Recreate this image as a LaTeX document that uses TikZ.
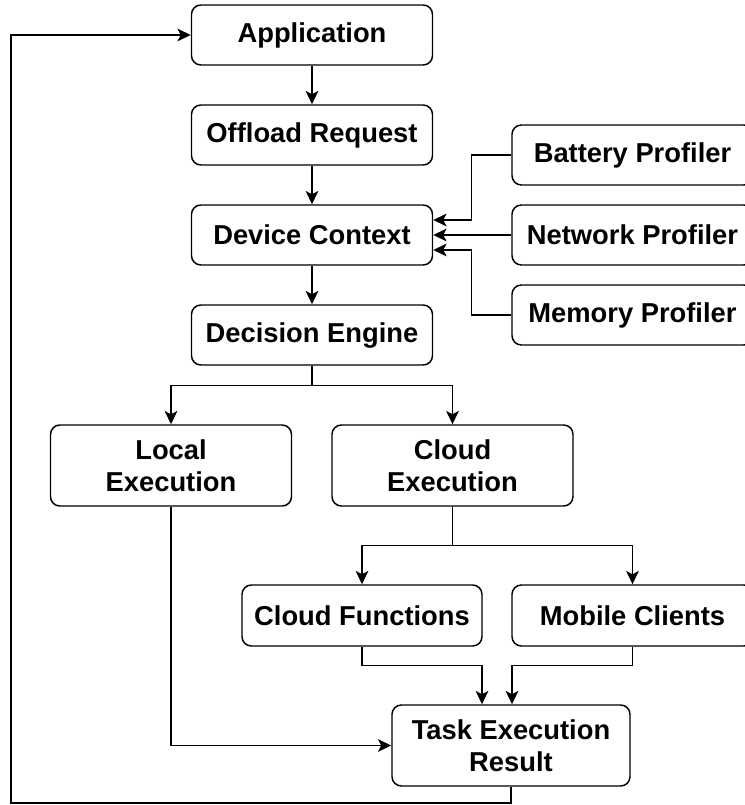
\documentclass[tikz,border=0pt]{standalone}
\usepackage{fontspec}
\setmainfont{Liberation Sans}
\usetikzlibrary{arrows.meta,calc}

\tikzset{
  box/.style={draw=black, line width=1.1pt, rounded corners=7pt, fill=white,
    minimum width=180.75pt, minimum height=45pt, inner sep=0pt, align=center,
    font=\fontsize{20.5pt}{24pt}\selectfont\bfseries},
  tallbox/.style={box, minimum height=60.75pt},
  arr/.style={draw=black, line width=1.1pt,
    -{Stealth[length=10pt, width=9.5pt, inset=2.5pt]}},
}

\begin{document}
\begin{tikzpicture}[x=0.75pt, y=-0.75pt]
  \useasboundingbox (0,0) rectangle (744,805);

  % main column
  \node[box] (app)      at (312,35)  {Application};
  \node[box] (offload)  at (312,135) {Offload Request};
  \node[box] (device)   at (312,235) {Device Context};
  \node[box] (decision) at (312,335) {Decision Engine};

  % profilers on the right
  \node[box] (battery) at (632.5,155) {Battery Profiler};
  \node[box] (network) at (632.5,235) {Network Profiler};
  \node[box] (memory)  at (632.5,315) {Memory Profiler};

  % execution branches
  \node[tallbox] (local) at (171,465.5)   {Local\\Execution};
  \node[tallbox] (cloud) at (452.5,465.5) {Cloud\\Execution};

  \node[box, minimum width=180pt, minimum height=45.75pt] (cfunc)  at (362,615.5)   {Cloud Functions};
  \node[box, minimum height=45.75pt]                        (mobile) at (632.5,615.5) {Mobile Clients};

  \node[tallbox, minimum width=178.5pt] (task) at (511,745.5) {Task Execution\\Result};

  \coordinate (fbcorner) at (11,803);

  % connectors
  \draw[arr] (app) -- (offload);
  \draw[arr] (offload) -- (device);
  \draw[arr] (device) -- (decision);

  \draw[arr] (battery.west) -- ++(-40,0) |- ($(device.east)+(0,-15)$);
  \draw[arr] (network.west) -- (device.east);
  \draw[arr] (memory.west) -- ++(-40,0) |- ($(device.east)+(0,15)$);

  \draw[arr] (decision.south) -- ++(0,20) -| (local.north);
  \draw[arr] (decision.south) -- ++(0,20) -| (cloud.north);

  \draw[arr] (cloud.south) -- ++(0,39) -| (cfunc.north);
  \draw[arr] (cloud.south) -- ++(0,39) -| (mobile.north);

  \draw[arr] (cfunc.south) -- ++(0,19) -| ($(task.north)+(-29,0)$);
  \draw[arr] (mobile.south) -- ++(0,19) -| ($(task.north)+(1,0)$);

  \draw[arr] (local.south) |- (task.west);

  \draw[arr] (task.south) |- (fbcorner) |- (app.west);
\end{tikzpicture}
\end{document}
